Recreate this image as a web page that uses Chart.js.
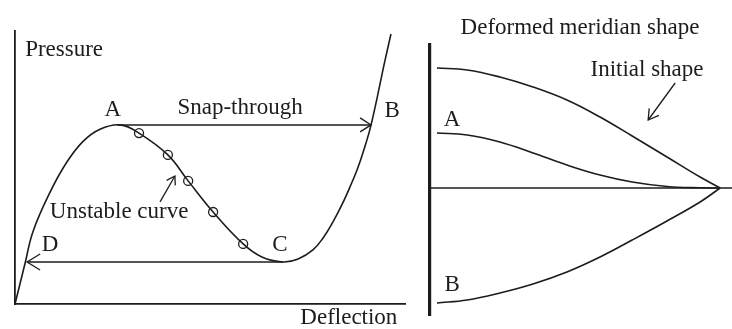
<!DOCTYPE html>
<html>
<head>
<meta charset="utf-8">
<script src="https://cdn.jsdelivr.net/npm/chart.js@4/dist/chart.umd.min.js"></script>
<style>
  html, body { margin: 0; padding: 0; background: #fff; }
  #wrap { position: relative; width: 732px; height: 329px; overflow: hidden; }
  #left { position: absolute; left: 0; top: 0; }
  #right { position: absolute; left: 420px; top: 0; }
</style>
</head>
<body>
<div id="wrap">
  <canvas id="left" width="420" height="329"></canvas>
  <canvas id="right" width="312" height="329"></canvas>
</div>
<script>
// ---- Left panel: pressure vs deflection ----
const deflection = [0, 0.26, 0.46, 0.90, 1.33, 1.74, 2.18, 2.70, 3.18, 3.92, 4.44, 5.08, 5.85, 6.33, 6.87, 7.26, 7.64, 7.90, 8.15, 8.38, 8.59, 8.77, 8.92, 9.13, 9.49, 9.64];
const pressure   = [0, 1.50, 2.65, 4.10, 5.20, 5.95, 6.40, 6.56, 6.26, 5.46, 4.51, 3.37, 2.20, 1.72, 1.54, 1.65, 1.98, 2.42, 3.00, 3.63, 4.29, 4.91, 5.53, 6.56, 8.94, 9.89];
const unstableIdx = [8, 9, 10, 11, 12];           // points marked with small circles
const snapThrough = { fromX: 2.62, toX: 9.13, y: 6.56 };  // A -> B
const returnPath  = { fromX: 6.87, toX: 0.31, y: 1.54 };  // C -> D

// ---- Right panel: deformed meridian shapes ----
const radius       = [0.24, 1.28, 2.41, 3.55, 4.72, 5.86, 6.97, 8.17, 9.31, 10];
const initialShape = [12.0, 11.8, 11.1, 10.1, 8.8, 7.1, 5.2, 3.1, 1.1, 0];
const shapeA       = [5.5, 5.3, 4.6, 3.5, 2.3, 1.3, 0.6, 0.15, 0.02, 0];
const shapeB       = [-11.5, -11.2, -10.5, -9.6, -8.4, -6.9, -5.2, -3.3, -1.4, 0];

const INK = '#1c1c1c';
const FONT = '23px "Liberation Serif", "DejaVu Serif", serif';

function pts(xs, ys) { return xs.map((x, i) => ({ x: x, y: ys[i] })); }

function arrowHead(ctx, tx, ty, fx, fy, len, half) {
  const ang = Math.atan2(ty - fy, tx - fx);
  ctx.beginPath();
  ctx.moveTo(tx - len * Math.cos(ang) + half * Math.sin(ang), ty - len * Math.sin(ang) - half * Math.cos(ang));
  ctx.lineTo(tx, ty);
  ctx.lineTo(tx - len * Math.cos(ang) - half * Math.sin(ang), ty - len * Math.sin(ang) + half * Math.cos(ang));
  ctx.stroke();
}

const annotate = {
  id: 'annotate',
  afterDatasetsDraw(chart, args, opts) {
    const ctx = chart.ctx, xs = chart.scales.x, ys = chart.scales.y;
    ctx.save();
    ctx.fillStyle = INK; ctx.strokeStyle = INK;
    ctx.font = FONT; ctx.textBaseline = 'middle';
    (opts.texts || []).forEach(t => {
      ctx.textAlign = t.align || 'center';
      ctx.fillText(t.text, xs.getPixelForValue(t.x), ys.getPixelForValue(t.y));
    });
    (opts.arrows || []).forEach(a => {
      const fx = xs.getPixelForValue(a.x1), fy = ys.getPixelForValue(a.y1);
      const tx = xs.getPixelForValue(a.x2), ty = ys.getPixelForValue(a.y2);
      ctx.lineWidth = a.w || 1.3;
      if (a.line) { ctx.beginPath(); ctx.moveTo(fx, fy); ctx.lineTo(tx, ty); ctx.stroke(); }
      arrowHead(ctx, tx, ty, fx, fy, a.len, a.half);
    });
    ctx.restore();
  }
};

const hiddenAxis = (min, max, borderWidth, show) => ({
  type: 'linear', min: min, max: max, display: show,
  grid: { display: false, drawTicks: false },
  ticks: { display: false },
  border: { display: show, color: INK, width: borderWidth }
});

const lineDs = (data, w, tension) => ({
  data: data, borderColor: INK, borderWidth: w, pointRadius: 0,
  fill: false, tension: tension || 0, clip: false
});

new Chart(document.getElementById('left'), {
  type: 'line',
  data: {
    datasets: [
      lineDs(pts(deflection, pressure), 1.6, 0.4),
      {
        data: unstableIdx.map(i => ({ x: deflection[i], y: pressure[i] })),
        showLine: false, pointStyle: 'circle', pointRadius: 4.5,
        pointBackgroundColor: '#fff', pointBorderColor: INK, pointBorderWidth: 1.3, clip: false
      },
      lineDs([{ x: snapThrough.fromX, y: snapThrough.y }, { x: snapThrough.toX, y: snapThrough.y }], 1.5),
      lineDs([{ x: returnPath.fromX, y: returnPath.y }, { x: returnPath.toX, y: returnPath.y }], 1.5)
    ]
  },
  options: {
    responsive: false, animation: false,
    layout: { padding: { left: 15, right: 15, top: 31, bottom: 25 } },
    scales: { x: hiddenAxis(0, 10, 1.8, true), y: hiddenAxis(0, 10, 1.8, true) },
    plugins: {
      legend: { display: false }, tooltip: { enabled: false },
      annotate: {
        texts: [
          { text: 'Pressure', x: 0.26, y: 9.3, align: 'left' },
          { text: 'A', x: 2.51, y: 7.1 },
          { text: 'Snap-through', x: 5.77, y: 7.18 },
          { text: 'B', x: 9.67, y: 7.07 },
          { text: 'Unstable curve', x: 2.67, y: 3.37 },
          { text: 'C', x: 6.79, y: 2.16 },
          { text: 'D', x: 0.90, y: 2.16 },
          { text: 'Deflection', x: 8.56, y: -0.52 }
        ],
        arrows: [
          { x1: snapThrough.fromX, y1: snapThrough.y, x2: snapThrough.toX, y2: snapThrough.y, len: 11, half: 7 },
          { x1: returnPath.fromX, y1: returnPath.y, x2: returnPath.toX, y2: returnPath.y, len: 13, half: 8 },
          { x1: 3.72, y1: 3.74, x2: 4.10, y2: 4.69, len: 8, half: 5, line: true }
        ]
      }
    }
  },
  plugins: [annotate]
});

new Chart(document.getElementById('right'), {
  type: 'line',
  data: {
    datasets: [
      lineDs([{ x: 0, y: 0 }, { x: 10.41, y: 0 }], 1.6),
      lineDs(pts(radius, initialShape), 1.6, 0.4),
      lineDs(pts(radius, shapeA), 1.6, 0.4),
      lineDs(pts(radius, shapeB), 1.6, 0.4)
    ]
  },
  options: {
    responsive: false, animation: false,
    layout: { padding: { left: 10, right: 0, top: 45, bottom: 14 } },
    scales: { x: hiddenAxis(0, 10.41, 1, false), y: hiddenAxis(-12.7, 14.3, 3.2, true) },
    plugins: {
      legend: { display: false }, tooltip: { enabled: false },
      annotate: {
        texts: [
          { text: 'Deformed meridian shape', x: 5.17, y: 16.0 },
          { text: 'Initial shape', x: 7.48, y: 11.8 },
          { text: 'A', x: 0.76, y: 6.8 },
          { text: 'B', x: 0.76, y: -9.7 }
        ],
        arrows: [
          { x1: 8.45, y1: 10.5, x2: 7.52, y2: 6.8, len: 10, half: 6, line: true }
        ]
      }
    }
  },
  plugins: [annotate]
});
</script>
</body>
</html>
